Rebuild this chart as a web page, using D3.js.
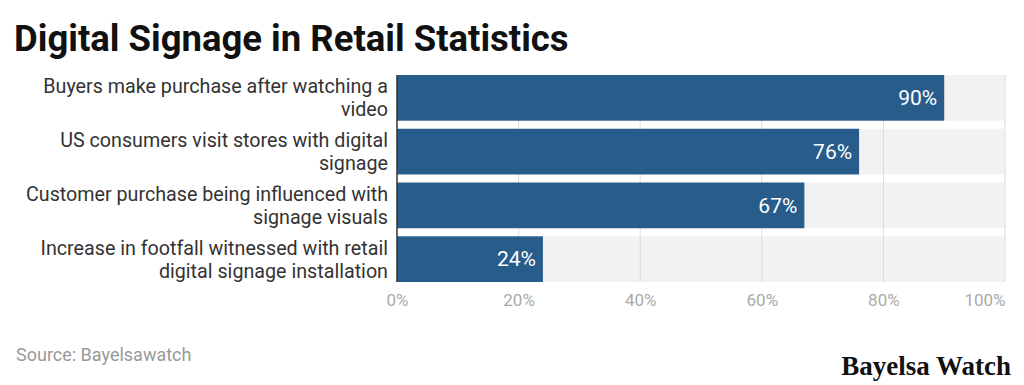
<!DOCTYPE html>
<html>
<head>
<meta charset="utf-8">
<script src="https://cdn.jsdelivr.net/npm/d3@7"></script>
<style>
  body { margin: 0; background: #fff; }
  svg { display: block; font-family: Roboto, "Noto Sans", sans-serif; }
</style>
</head>
<body>
<div id="chart"></div>
<script>
// chart data
const categories = [
  ['Buyers make purchase after watching a', 'video'],
  ['US consumers visit stores with digital', 'signage'],
  ['Customer purchase being influenced with', 'signage visuals'],
  ['Increase in footfall witnessed with retail', 'digital signage installation']
];
const values = [90, 76, 67, 24];
const tickValues = [0, 20, 40, 60, 80, 100];

const W = 1024, H = 385;
const margin = {top: 75, right: 19, bottom: 103, left: 397};

let svg = d3.select('#chart')
  .append('svg')
    .attr('width', W)
    .attr('height', H);

let x = d3.scaleLinear()
  .domain([0, 100])
  .range([margin.left, W - margin.right]);

let y = d3.scaleBand()
  .domain(d3.range(categories.length))
  .range([margin.top, H - margin.bottom])
  .paddingInner(0.15)
  .paddingOuter(0.0);

// grey row backgrounds
svg.append('g')
  .selectAll('rect')
  .data(values)
  .join('rect')
    .attr('x', x(0))
    .attr('y', (d, i) => y(i))
    .attr('width', x(100) - x(0))
    .attr('height', y.bandwidth())
    .attr('fill', '#f2f2f2');

// gridlines
svg.append('g')
  .selectAll('line')
  .data(tickValues.slice(1))
  .join('line')
    .attr('x1', d => x(d))
    .attr('x2', d => x(d))
    .attr('y1', margin.top)
    .attr('y2', H - margin.bottom)
    .attr('stroke', '#dcdcdc')
    .attr('stroke-width', 1);

// bars
svg.append('g')
  .selectAll('rect')
  .data(values)
  .join('rect')
    .attr('x', x(0))
    .attr('y', (d, i) => y(i))
    .attr('width', d => x(d) - x(0))
    .attr('height', y.bandwidth())
    .attr('fill', '#285c8b');

// value labels
svg.append('g')
  .selectAll('text')
  .data(values)
  .join('text')
    .attr('x', d => x(d) - 7)
    .attr('y', (d, i) => y(i) + y.bandwidth() / 2)
    .attr('dy', '0.35em')
    .attr('text-anchor', 'end')
    .attr('fill', '#fff')
    .style('font-size', '21px')
    .text(d => d + '%');

// y axis line
svg.append('line')
  .attr('x1', x(0))
  .attr('x2', x(0))
  .attr('y1', margin.top)
  .attr('y2', H - margin.bottom)
  .attr('stroke', '#333')
  .attr('stroke-width', 1.5);

// category labels
let catLabels = svg.append('g')
  .selectAll('text')
  .data(categories)
  .join('text')
    .attr('text-anchor', 'end')
    .attr('fill', '#333')
    .style('font-size', '19.7px');
catLabels.each(function(lines, i) {
  let t = d3.select(this);
  let cy = y(i) + y.bandwidth() / 2;
  lines.forEach((ln, j) => {
    t.append('tspan')
      .attr('x', x(0) - 9)
      .attr('y', cy + (j === 0 ? -11.5 : 11.5))
      .attr('dy', '0.35em')
      .text(ln);
  });
});

// x axis tick labels
let xAxis = d3.axisBottom(x)
  .tickValues(tickValues)
  .tickFormat(d => d + '%')
  .tickSize(0)
  .tickPadding(12);
let xg = svg.append('g')
  .attr('transform', `translate(0, ${H - margin.bottom})`)
  .call(xAxis);
xg.select('.domain').remove();
xg.selectAll('text')
  .attr('fill', '#aaa')
  .style('font-size', '17px')
  .style('font-family', 'Roboto, sans-serif');
xg.selectAll('.tick')
  .filter(d => d === 100)
  .select('text')
  .attr('text-anchor', 'end');

// title
svg.append('text')
  .attr('x', 14)
  .attr('y', 51)
  .attr('fill', '#111')
  .style('font-size', '36.5px')
  .style('font-weight', 'bold')
  .text('Digital Signage in Retail Statistics');

// source
svg.append('text')
  .attr('x', 16)
  .attr('y', 361)
  .attr('fill', '#999')
  .style('font-size', '18px')
  .text('Source: Bayelsawatch');

// brand
svg.append('text')
  .attr('x', 1011)
  .attr('y', 375)
  .attr('text-anchor', 'end')
  .attr('fill', '#111')
  .style('font-family', '"Liberation Serif", "DejaVu Serif", serif')
  .style('font-weight', 'bold')
  .style('font-size', '27px')
  .text('Bayelsa Watch');
</script>
</body>
</html>
